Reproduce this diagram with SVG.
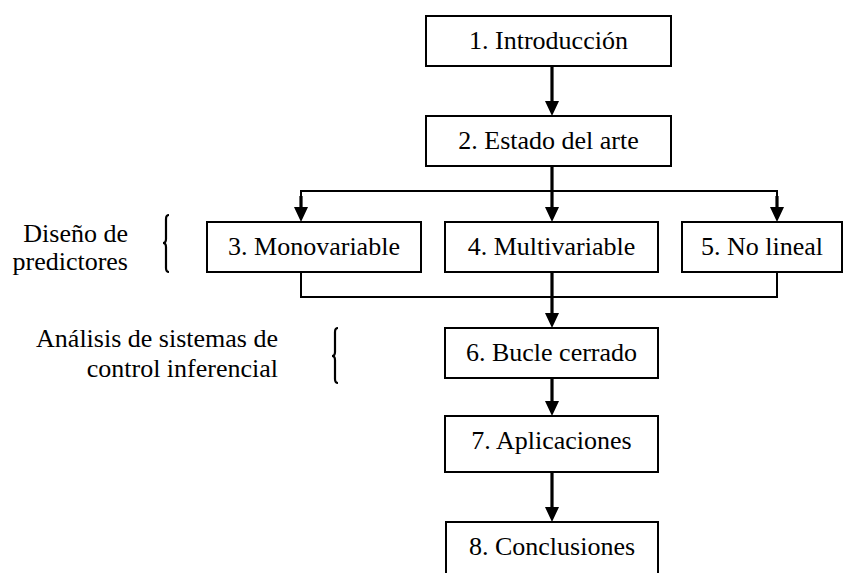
<svg xmlns="http://www.w3.org/2000/svg" width="845" height="573" viewBox="0 0 845 573">
<style>
.box{fill:#fff;stroke:#000;stroke-width:2}
.ln{fill:none;stroke:#000;stroke-width:2}
.ar{fill:none;stroke:#000;stroke-width:3.2}
.br{fill:none;stroke:#000;stroke-width:2.2}
</style>
<rect width="845" height="573" fill="#fff"/>
<g id="connectors">
<line class="ar" x1="552" y1="66" x2="552" y2="101"/><path d="M545,101 L559,101 L552,116 Z"/>
<line class="ar" x1="552" y1="166" x2="552" y2="207"/><path d="M545,207 L559,207 L552,222 Z"/>
<polyline class="ln" points="301,207 301,191 777,191 777,207"/>
<line class="ar" x1="301" y1="196" x2="301" y2="207"/><path d="M294,207 L308,207 L301,222 Z"/>
<line class="ar" x1="777" y1="196" x2="777" y2="207"/><path d="M770,207 L784,207 L777,222 Z"/>
<polyline class="ln" points="301,272 301,297 777,297 777,272"/>
<line class="ar" x1="552" y1="272" x2="552" y2="313"/><path d="M545,313 L559,313 L552,328 Z"/>
<line class="ar" x1="552" y1="378" x2="552" y2="401"/><path d="M545,401 L559,401 L552,416 Z"/>
<line class="ar" x1="552" y1="472" x2="552" y2="507"/><path d="M545,507 L559,507 L552,522 Z"/>
</g>
<g id="n1"><rect class="box" x="426" y="16" width="245" height="50"/><text x="548.5" y="49" font-size="26" text-anchor="middle" font-family="Liberation Serif" style="font-family:'Liberation Serif'">1. Introducción</text></g>
<g id="n2"><rect class="box" x="426" y="116" width="245" height="50"/><text x="548.5" y="149" font-size="26" text-anchor="middle" font-family="Liberation Serif" style="font-family:'Liberation Serif'">2. Estado del arte</text></g>
<g id="n3"><rect class="box" x="207" y="222" width="214" height="50"/><text x="314" y="255" font-size="26" text-anchor="middle" font-family="Liberation Serif" style="font-family:'Liberation Serif'">3. Monovariable</text></g>
<g id="n4"><rect class="box" x="445" y="222" width="213" height="50"/><text x="551.5" y="255" font-size="26" text-anchor="middle" font-family="Liberation Serif" style="font-family:'Liberation Serif'">4. Multivariable</text></g>
<g id="n5"><rect class="box" x="682" y="222" width="160" height="50"/><text x="762" y="255" font-size="26" text-anchor="middle" font-family="Liberation Serif" style="font-family:'Liberation Serif'">5. No lineal</text></g>
<g id="n6"><rect class="box" x="445" y="328" width="213" height="50"/><text x="551.5" y="361" font-size="26" text-anchor="middle" font-family="Liberation Serif" style="font-family:'Liberation Serif'">6. Bucle cerrado</text></g>
<g id="n7"><rect class="box" x="445" y="416" width="213" height="56"/><text x="551.5" y="449" font-size="26" text-anchor="middle" font-family="Liberation Serif" style="font-family:'Liberation Serif'">7. Aplicaciones</text></g>
<g id="n8"><rect class="box" x="446" y="522" width="212" height="60"/><text x="552" y="555" font-size="26" text-anchor="middle" font-family="Liberation Serif" style="font-family:'Liberation Serif'">8. Conclusiones</text></g>
<g id="label-predictores">
<text x="128" y="242" font-size="26" text-anchor="end" font-family="Liberation Serif" style="font-family:'Liberation Serif'">Diseño de</text>
<text x="128" y="270" font-size="26" text-anchor="end" font-family="Liberation Serif" style="font-family:'Liberation Serif'">predictores</text>
<path class="br" d="M169,215 Q166,215 166,219 L166,239 Q166,243 163,243 Q166,243 166,247 L166,268 Q166,272 169,272"/>
</g>
<g id="label-analisis">
<text x="278" y="347" font-size="26" text-anchor="end" font-family="Liberation Serif" style="font-family:'Liberation Serif'">Análisis de sistemas de</text>
<text x="278" y="377" font-size="26" text-anchor="end" font-family="Liberation Serif" style="font-family:'Liberation Serif'">control inferencial</text>
<path class="br" d="M338,328 Q335,328 335,332 L335,352 Q335,356 332,356 Q335,356 335,360 L335,379 Q335,383 338,383"/>
</g>
</svg>
